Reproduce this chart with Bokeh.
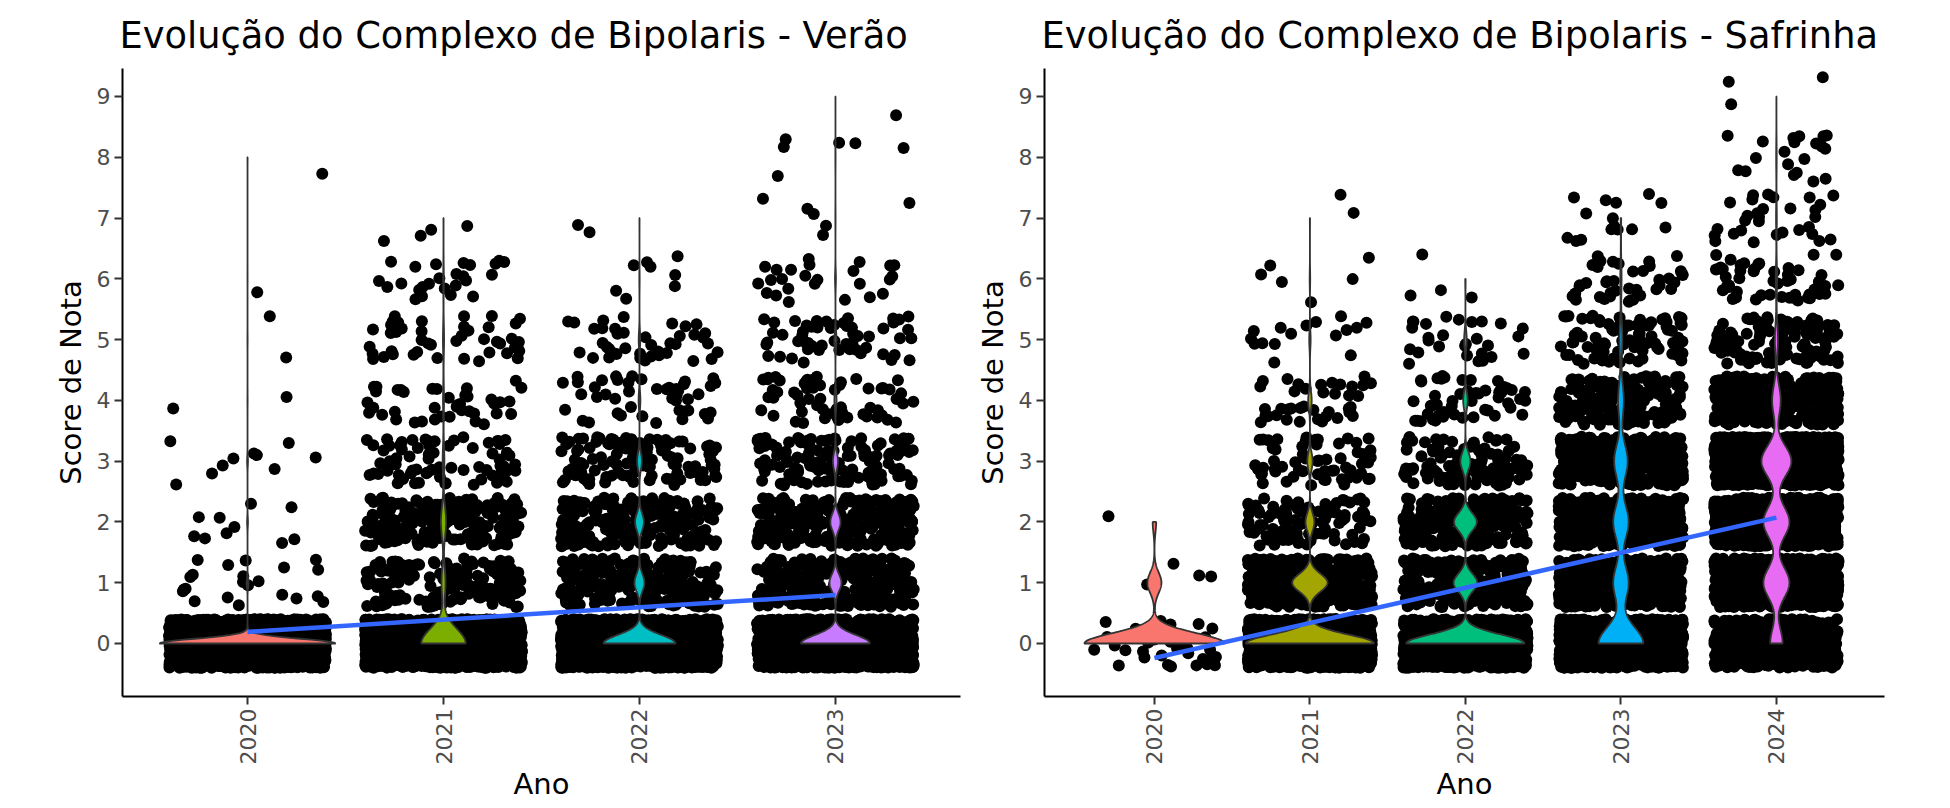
import numpy as np
from bokeh.plotting import figure
from bokeh.layouts import row
from bokeh.models import Range1d, FixedTicker
from bokeh.embed import file_html
from bokeh.resources import INLINE

# ---------------- data (counts of observations per integer score) ----------------
scores = [0, 1, 2, 3, 4, 5, 6, 7, 8, 9]

verao_title = "Evolução do Complexo de Bipolaris - Verão"
verao_years = ["2020", "2021", "2022", "2023"]
verao_2020 = [2035, 22, 10, 10, 2, 2, 1, 0, 1, 0]
verao_2021 = [1783, 160, 210, 70, 40, 45, 25, 4, 0, 0]
verao_2022 = [1802, 250, 220, 120, 45, 40, 8, 2, 0, 0]
verao_2023 = [1892, 330, 280, 140, 60, 55, 25, 6, 6, 1]
verao_colors = ["#F8766D", "#7CAE00", "#00BFC4", "#C77CFF"]

safrinha_title = "Evolução do Complexo de Bipolaris - Safrinha"
safrinha_years = ["2020", "2021", "2022", "2023", "2024"]
safrinha_2020 = [40, 4, 1, 0, 0, 0, 0, 0, 0, 0]
safrinha_2021 = [1450, 400, 100, 60, 40, 16, 6, 2, 0, 0]
safrinha_2022 = [1300, 260, 250, 110, 50, 28, 4, 0, 0, 0]
safrinha_2023 = [1395, 480, 480, 420, 180, 90, 40, 15, 0, 0]
safrinha_2024 = [480, 1000, 1000, 1150, 330, 120, 50, 30, 20, 3]
safrinha_colors = ["#F8766D", "#A3A500", "#00BF7D", "#00B0F6", "#E76BF3"]

FONT = "DejaVu Sans"


def hash01(idx, seed):
    # deterministic splitmix64 hash -> jitter offsets in [0, 1)
    with np.errstate(over="ignore"):
        z = (idx.astype(np.uint64) + np.uint64(seed)) * np.uint64(0x9E3779B97F4A7C15)
        z = (z ^ (z >> np.uint64(30))) * np.uint64(0xBF58476D1CE4E5B9)
        z = (z ^ (z >> np.uint64(27))) * np.uint64(0x94D049BB133111EB)
        z = z ^ (z >> np.uint64(31))
    return (z >> np.uint64(11)).astype(np.float64) / float(2 ** 53)


def nrd0(x):
    hi = np.std(x, ddof=1)
    q75, q25 = np.percentile(x, [75, 25])
    lo = min(hi, (q75 - q25) / 1.34)
    if lo == 0:
        lo = hi if hi else (abs(x[0]) if x[0] else 1.0)
    return 0.9 * lo * len(x) ** (-0.2)


def build(title, years, counts, colors, xr, frame_w, bl, br, seq0):
    p = figure(frame_width=frame_w, frame_height=628,
               x_range=Range1d(*xr), y_range=Range1d(-0.872, 9.46),
               output_backend="svg", toolbar_location=None,
               min_border_left=bl, min_border_right=br,
               min_border_top=68, min_border_bottom=100,
               background_fill_color="white", border_fill_color="white")
    p.outline_line_color = None
    p.xgrid.visible = False
    p.ygrid.visible = False

    # jittered points (+-0.4 in both directions, as geom_jitter)
    xs, ys = [], []
    i = seq0
    for k, cnt in enumerate(counts):
        for s, c in zip(scores, cnt):
            idx = np.arange(i, i + c)
            i += c
            u = hash01(idx, 1234567)
            v = hash01(idx, 987654321)
            xs.append(k + 1 + (u - 0.5) * 0.8)
            ys.append(s + (v - 0.5) * 0.8)
    p.scatter(np.concatenate(xs), np.concatenate(ys), size=12,
              fill_color="black", line_color=None)

    # violins (gaussian KDE, nrd0 bandwidth, trimmed, scale = area)
    dens = []
    for cnt in counts:
        vals = np.repeat(scores, cnt).astype(float)
        bw = nrd0(vals)
        grid = np.linspace(vals.min(), vals.max(), 512)
        d = np.zeros_like(grid)
        for s, c in zip(scores, cnt):
            if c:
                d += c * np.exp(-0.5 * ((grid - s) / bw) ** 2)
        d /= (len(vals) * bw * np.sqrt(2 * np.pi))
        dens.append((grid, d))
    maxd = max(d.max() for _, d in dens)
    for k, ((grid, d), col) in enumerate(zip(dens, colors)):
        hw = d / maxd * 0.45
        vx = np.concatenate([k + 1 + hw, (k + 1 - hw)[::-1]])
        vy = np.concatenate([grid, grid[::-1]])
        p.patch(vx, vy, fill_color=col, line_color="#333333", line_width=1.8)

    # linear trend
    allx = np.concatenate([np.full(sum(cnt), k + 1.0) for k, cnt in enumerate(counts)])
    ally = np.concatenate([np.repeat(scores, cnt).astype(float) for cnt in counts])
    slope, inter = np.polyfit(allx, ally, 1)
    K = len(counts)
    p.line([1, K], [inter + slope, inter + slope * K], line_color="#3366FF", line_width=4.5)

    # axes
    p.xaxis.ticker = FixedTicker(ticks=list(range(1, K + 1)))
    p.xaxis.major_label_overrides = {k + 1: y for k, y in enumerate(years)}
    p.xaxis.major_label_orientation = np.pi / 2
    p.yaxis.ticker = FixedTicker(ticks=list(range(10)))
    for ax in (p.xaxis[0], p.yaxis[0]):
        ax.axis_line_color = "black"
        ax.axis_line_width = 2
        ax.major_tick_line_color = "#333333"
        ax.major_tick_line_width = 2
        ax.major_tick_out = 8
        ax.major_tick_in = 0
        ax.minor_tick_line_color = None
        ax.major_label_text_font = FONT
        ax.major_label_text_font_size = "22px"
        ax.major_label_text_color = "#4D4D4D"
        ax.major_label_standoff = 4
        ax.axis_label_text_font = FONT
        ax.axis_label_text_font_size = "29px"
        ax.axis_label_text_font_style = "normal"
        ax.axis_label_text_color = "black"
    p.xaxis.axis_label_standoff = 0
    p.yaxis.axis_label_standoff = 6
    p.xaxis.axis_label = "Ano"
    p.yaxis.axis_label = "Score de Nota"

    p.title.text = title
    p.title.text_font = FONT
    p.title.text_font_size = "36.8px"
    p.title.text_font_style = "normal"
    p.title.text_color = "black"
    p.title.align = "left"
    p.title.offset = -3
    p.title.standoff = 23
    return p


p1 = build(verao_title, verao_years,
           [verao_2020, verao_2021, verao_2022, verao_2023],
           verao_colors, (0.362, 4.638), 838, 122, 12, 0)
p2 = build(safrinha_title, safrinha_years,
           [safrinha_2020, safrinha_2021, safrinha_2022, safrinha_2023, safrinha_2024],
           safrinha_colors, (0.293, 5.695), 840, 71, 30, 50000)

layout = row(p1, p2)
open("out.html", "w").write(file_html(layout, INLINE))
